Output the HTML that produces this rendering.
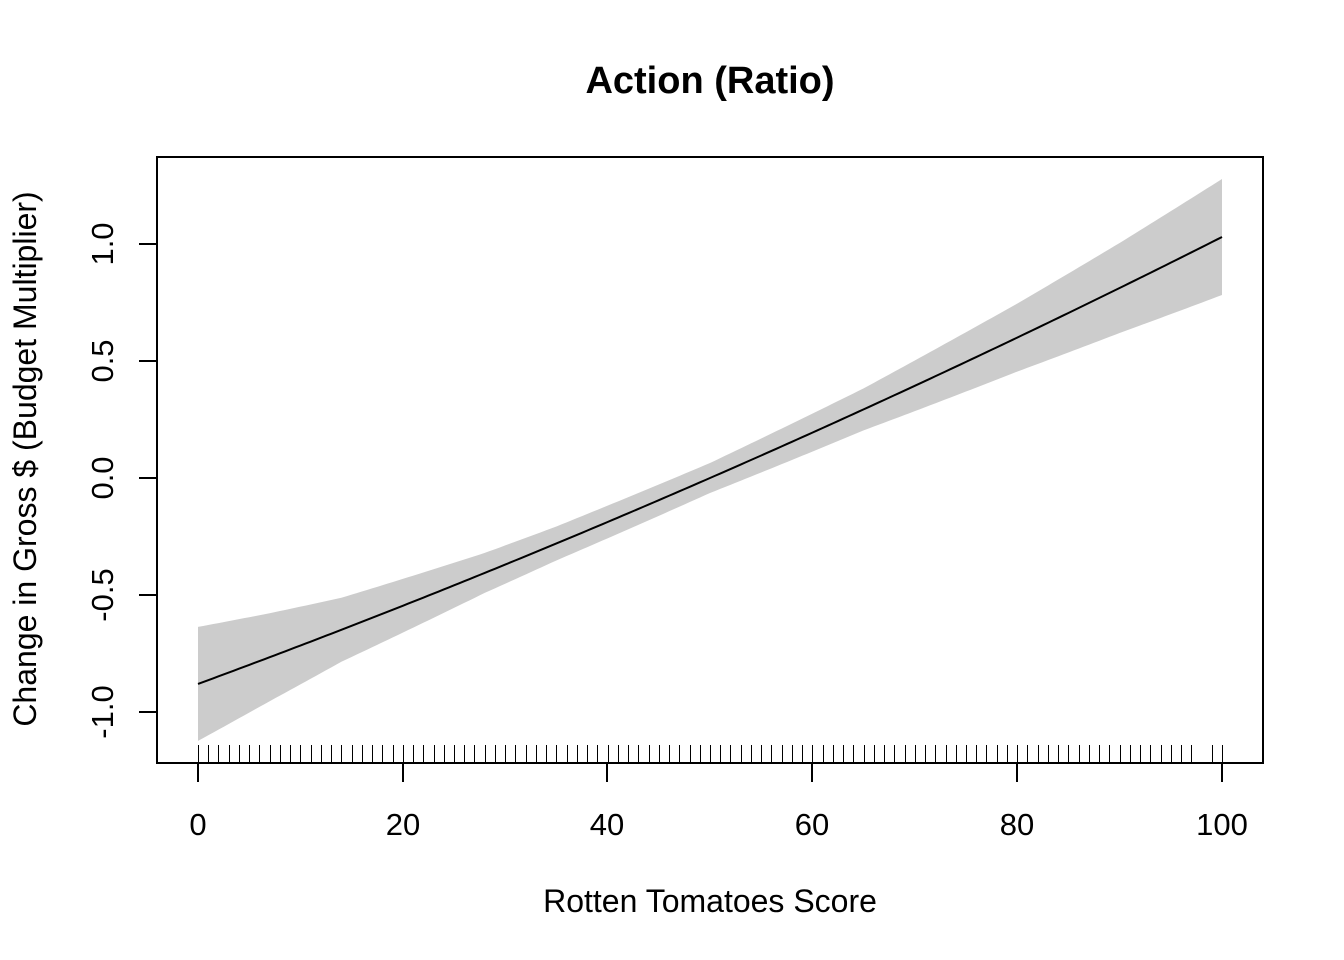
<!DOCTYPE html>
<html><head><style>body{margin:0;background:#fff}svg{display:block}text{font-family:"Liberation Sans",Arial,sans-serif;fill:#000}</style></head>
<body>
<svg id="s" width="1344" height="960" xmlns="http://www.w3.org/2000/svg">
<text x="710" y="93" font-size="38" font-weight="bold" text-anchor="middle">Action (Ratio)</text>
<g id="band"></g>
<rect x="157" y="157" width="1106" height="606" fill="none" stroke="#000" stroke-width="2"/>
<g stroke="#000" stroke-width="2">
<line x1="198" y1="763" x2="1222" y2="763"/>
<line x1="198" y1="763" x2="198" y2="782"/><line x1="403" y1="763" x2="403" y2="782"/><line x1="607" y1="763" x2="607" y2="782"/><line x1="812" y1="763" x2="812" y2="782"/><line x1="1017" y1="763" x2="1017" y2="782"/><line x1="1222" y1="763" x2="1222" y2="782"/>
<line x1="157" y1="244" x2="157" y2="712"/>
<line x1="157" y1="244" x2="139" y2="244"/><line x1="157" y1="361" x2="139" y2="361"/><line x1="157" y1="478" x2="139" y2="478"/><line x1="157" y1="595" x2="139" y2="595"/><line x1="157" y1="712" x2="139" y2="712"/>
</g>
<g font-size="31" text-anchor="middle">
<text x="198" y="835">0</text><text x="403" y="835">20</text><text x="607" y="835">40</text><text x="812" y="835">60</text><text x="1017" y="835">80</text><text x="1222" y="835">100</text>
<text transform="translate(113,244) rotate(-90)">1.0</text>
<text transform="translate(113,361) rotate(-90)">0.5</text>
<text transform="translate(113,478) rotate(-90)">0.0</text>
<text transform="translate(113,595) rotate(-90)">-0.5</text>
<text transform="translate(113,712) rotate(-90)">-1.0</text>
<text x="710" y="912" font-size="32">Rotten Tomatoes Score</text>
<text transform="translate(36,459) rotate(-90)" font-size="32">Change in Gross $ (Budget Multiplier)</text>
</g>
<g id="rug" stroke="#000" stroke-width="1"></g>
</svg>
<script>
var X=s=>198+10.24*s, Y=v=>478-234*v;
var f=s=>-0.88+0.0161*s+0.00003*s*s;
var T=[[0,57],[7,44],[14,32],[28,20],[35,17],[50,15],[65,21],[80,34],[90,45],[100,58]];
function hw(s){for(var i=1;i<T.length;i++){if(s<=T[i][0]){var a=T[i-1],b=T[i],t=(s-a[0])/(b[0]-a[0]);return a[1]+t*(b[1]-a[1]);}}return 58;}
var up=[],lo=[],ln=[];
for(var s=0;s<=100;s+=0.5){var y=Y(f(s));up.push(X(s)+","+(y-hw(s)));lo.unshift(X(s)+","+(y+hw(s)));ln.push(X(s)+","+y);}
var ns="http://www.w3.org/2000/svg";
var b=document.getElementById("band");
var p=document.createElementNS(ns,"polygon");p.setAttribute("points",up.concat(lo).join(" "));p.setAttribute("fill","#cccccc");b.appendChild(p);
var l=document.createElementNS(ns,"polyline");l.setAttribute("points",ln.join(" "));l.setAttribute("fill","none");l.setAttribute("stroke","#000");l.setAttribute("stroke-width","2");b.appendChild(l);
var r=document.getElementById("rug");
for(var i=0;i<=100;i++){if(i==98)continue;var k=document.createElementNS(ns,"line");var x=Math.round(X(i))+0.5;k.setAttribute("x1",x);k.setAttribute("x2",x);k.setAttribute("y1",745);k.setAttribute("y2",763);r.appendChild(k);}
</script>
</body></html>
